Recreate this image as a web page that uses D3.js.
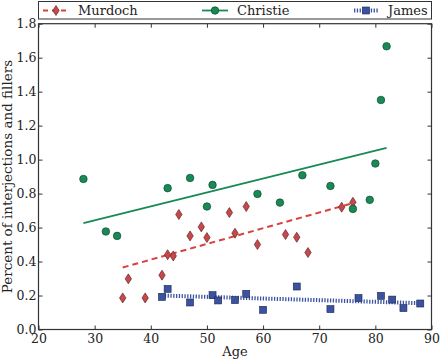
<!DOCTYPE html>
<html><head><meta charset="utf-8">
<script src="https://cdn.jsdelivr.net/npm/d3@7"></script>
<style>body{margin:0;background:#fff}svg{display:block}text{font-family:"DejaVu Serif",serif;fill:#222}</style>
</head><body><svg id="c" width="440" height="359"></svg>
<script>
const murdochAge = [35,36,39,42,43,44,45,47,49,50,54,55,57,59,64,66,68,74,76];
const murdochVal = [0.186,0.298,0.186,0.32,0.44,0.433,0.677,0.551,0.604,0.541,0.688,0.567,0.724,0.5,0.559,0.543,0.453,0.72,0.749];
const christieAge = [28,32,34,43,47,50,51,59,63,67,72,76,79,80,81,82];
const christieVal = [0.886,0.577,0.551,0.832,0.892,0.724,0.851,0.798,0.747,0.908,0.845,0.71,0.763,0.977,1.351,1.667];
const jamesAge = [42,43,47,51,52,55,57,60,66,72,77,81,83,85,88];
const jamesVal = [0.192,0.239,0.159,0.202,0.171,0.173,0.21,0.116,0.253,0.12,0.185,0.198,0.176,0.126,0.153];
const murdochFit = [[35,0.365],[76,0.744]];
const christieFit = [[28,0.626],[82,1.069]];
const jamesFit = [[42,0.2],[88,0.155]];
const xTicks = [20,30,40,50,60,70,80,90];
const yTicks = [0,0.2,0.4,0.6,0.8,1.0,1.2,1.4,1.6,1.8];
const seriesNames = ["Murdoch","Christie","James"];

const svg = d3.select("#c");
const L=38.5, R=431.5, T=23.7, B=329.5;
const x = d3.scaleLinear().domain([20,90]).range([L,R]);
const y = d3.scaleLinear().domain([0,1.8]).range([B,T]);
const red="#d8423e", redFill="#c9474b", green="#178a55", blue="#3a52a0";

// axes
const ax = svg.append("g");
ax.append("g").attr("transform",`translate(0,${B})`).call(d3.axisBottom(x).tickValues(xTicks).tickFormat(d3.format("d")).tickSizeInner(-4).tickSizeOuter(0).tickPadding(5));
ax.append("g").attr("transform",`translate(0,${T})`).call(d3.axisTop(x).tickValues(xTicks).tickFormat("").tickSizeInner(-4).tickSizeOuter(0));
ax.append("g").attr("transform",`translate(${L},0)`).call(d3.axisLeft(y).tickValues(yTicks).tickFormat(d3.format(".1f")).tickSizeInner(-4).tickSizeOuter(0).tickPadding(2));
ax.append("g").attr("transform",`translate(${R},0)`).call(d3.axisRight(y).tickValues(yTicks).tickFormat("").tickSizeInner(-4).tickSizeOuter(0));
ax.selectAll(".domain").remove();
ax.selectAll("line").attr("stroke","#333");
ax.selectAll("text").style("font-size","12.5px").style("font-family","DejaVu Serif").attr("fill","#222");
svg.append("rect").attr("x",L).attr("y",T).attr("width",R-L).attr("height",B-T).attr("fill","none").attr("stroke","#333").attr("stroke-width",1.2);

// labels
svg.append("text").attr("x",(L+R)/2).attr("y",356).attr("text-anchor","middle").style("font-size","13px").text("Age");
svg.append("text").attr("transform",`translate(11.5,${(T+B)/2}) rotate(-90)`).attr("text-anchor","middle").style("font-size","13.5px").text("Percent of interjections and fillers");

const line = d3.line().x(d=>x(d[0])).y(d=>y(d[1]));
const diamond = (cx,cy)=>`M${cx},${cy-5}L${cx+3.2},${cy}L${cx},${cy+5}L${cx-3.2},${cy}Z`;

// fit lines
svg.append("path").attr("d",line(christieFit)).attr("stroke",green).attr("stroke-width",1.8).attr("fill","none");
svg.append("path").attr("d",line(murdochFit)).attr("stroke",red).attr("stroke-width",2).attr("stroke-dasharray","6,4").attr("fill","none");
svg.append("path").attr("d",line(jamesFit)).attr("stroke",blue).attr("stroke-width",4).attr("stroke-dasharray","1.3,1.5").attr("fill","none");

// points
svg.append("g").selectAll("path").data(murdochAge.map((a,i)=>[a,murdochVal[i]])).join("path")
  .attr("d",d=>diamond(x(d[0]),y(d[1]))).attr("fill",redFill).attr("stroke","#4a1a1a").attr("stroke-width",0.6);
svg.append("g").selectAll("circle").data(christieAge.map((a,i)=>[a,christieVal[i]])).join("circle")
  .attr("cx",d=>x(d[0])).attr("cy",d=>y(d[1])).attr("r",3.8).attr("fill",green).attr("stroke","#0c3a25").attr("stroke-width",0.6);
svg.append("g").selectAll("rect").data(jamesAge.map((a,i)=>[a,jamesVal[i]])).join("rect")
  .attr("x",d=>x(d[0])-3.5).attr("y",d=>y(d[1])-3.5).attr("width",7).attr("height",7).attr("fill",blue).attr("stroke","#1c2550").attr("stroke-width",0.6);

// legend
const lg = svg.append("g");
lg.append("rect").attr("x",L).attr("y",1.5).attr("width",R-L).attr("height",17.5).attr("fill","#fff").attr("stroke","#333").attr("stroke-width",1);
const ly=10.5;
lg.append("line").attr("x1",43).attr("x2",69).attr("y1",ly).attr("y2",ly).attr("stroke",red).attr("stroke-width",2).attr("stroke-dasharray","5,4");
lg.append("path").attr("d",diamond(56,ly)).attr("fill",redFill).attr("stroke","#4a1a1a").attr("stroke-width",0.6);
lg.append("line").attr("x1",202).attr("x2",228).attr("y1",ly).attr("y2",ly).attr("stroke",green).attr("stroke-width",1.8);
lg.append("circle").attr("cx",215).attr("cy",ly).attr("r",3.8).attr("fill",green).attr("stroke","#0c3a25").attr("stroke-width",0.6);
lg.append("line").attr("x1",354).attr("x2",378).attr("y1",ly).attr("y2",ly).attr("stroke",blue).attr("stroke-width",4).attr("stroke-dasharray","1.3,1.5");
lg.append("rect").attr("x",362.5).attr("y",ly-3.5).attr("width",7).attr("height",7).attr("fill",blue).attr("stroke","#1c2550").attr("stroke-width",0.6);
const lx=[78,237,388];
seriesNames.forEach((n,i)=>lg.append("text").attr("x",lx[i]).attr("y",ly+4.5).style("font-size","13px").text(n));
</script></body></html>
